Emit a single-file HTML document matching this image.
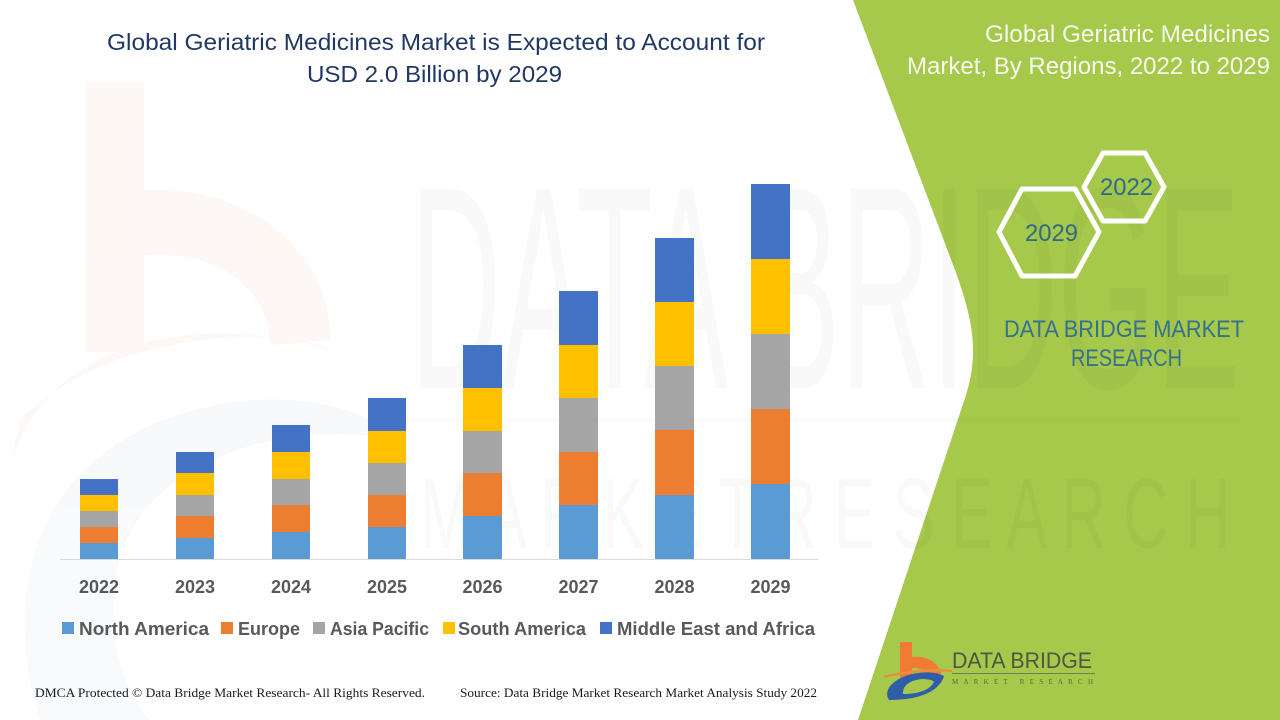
<!DOCTYPE html>
<html>
<head>
<meta charset="utf-8">
<style>
html,body{margin:0;padding:0;background:#fff;}
svg{display:block;}
</style>
</head>
<body>
<svg width="1280" height="720" viewBox="0 0 1280 720" xmlns="http://www.w3.org/2000/svg">
  <rect x="0" y="0" width="1280" height="720" fill="#ffffff"/>

  <!-- faint watermark logo on left -->
  <g opacity="0.3">
    <rect x="86" y="82" width="58" height="270" fill="#fbe9df"/>
    <path d="M144,190 C250,185 330,250 330,340 L270,345 C268,285 215,250 144,255 Z" fill="#fbe9df"/>
    <path d="M10,470 C40,340 200,310 330,350 C300,330 120,320 20,420 Z" fill="#fbe9df"/>
    <path d="M40,720 C-10,560 60,420 250,400 C330,395 380,420 400,440 C300,420 150,450 120,560 C100,640 130,700 150,720 Z" fill="#e8edf5"/>
  </g>

  <!-- green panel -->
  <path d="M853,0 L952,262 C972,315 980,350 966,395 L858,720 L1280,720 L1280,0 Z" fill="#a6c84b"/>

  <!-- big watermark text -->
  <text x="410" y="388" font-family="Liberation Sans, sans-serif" font-size="290" fill="#000" opacity="0.018" textLength="830" lengthAdjust="spacingAndGlyphs">DATA BRIDGE</text>
  <line x1="400" y1="420" x2="1240" y2="420" stroke="#000" stroke-opacity="0.015" stroke-width="4"/>
  <text x="420" y="548" font-family="Liberation Sans, sans-serif" font-size="100" fill="#000" opacity="0.018" textLength="810" lengthAdjust="spacingAndGlyphs">M A R K E T  R E S E A R C H</text>

  <!-- title -->
  <text x="107" y="50" font-family="Liberation Sans, sans-serif" font-size="23" fill="#203864" textLength="658" lengthAdjust="spacingAndGlyphs">Global Geriatric Medicines Market is Expected to Account for</text>
  <text x="307" y="82" font-family="Liberation Sans, sans-serif" font-size="23" fill="#203864" textLength="255" lengthAdjust="spacingAndGlyphs">USD 2.0 Billion by 2029</text>

  <!-- bars -->
  <g>
    <rect x="80" y="543" width="38" height="16" fill="#5b9bd5"/>
    <rect x="80" y="527" width="38" height="16" fill="#ed7d31"/>
    <rect x="80" y="511" width="38" height="16" fill="#a5a5a5"/>
    <rect x="80" y="495" width="38" height="16" fill="#ffc000"/>
    <rect x="80" y="479" width="38" height="16" fill="#4472c4"/>

    <rect x="176" y="538" width="38" height="21" fill="#5b9bd5"/>
    <rect x="176" y="516" width="38" height="22" fill="#ed7d31"/>
    <rect x="176" y="495" width="38" height="21" fill="#a5a5a5"/>
    <rect x="176" y="473" width="38" height="22" fill="#ffc000"/>
    <rect x="176" y="452" width="38" height="21" fill="#4472c4"/>

    <rect x="272" y="532" width="38" height="27" fill="#5b9bd5"/>
    <rect x="272" y="505" width="38" height="27" fill="#ed7d31"/>
    <rect x="272" y="479" width="38" height="26" fill="#a5a5a5"/>
    <rect x="272" y="452" width="38" height="27" fill="#ffc000"/>
    <rect x="272" y="425" width="38" height="27" fill="#4472c4"/>

    <rect x="368" y="527" width="38" height="32" fill="#5b9bd5"/>
    <rect x="368" y="495" width="38" height="32" fill="#ed7d31"/>
    <rect x="368" y="463" width="38" height="32" fill="#a5a5a5"/>
    <rect x="368" y="431" width="38" height="32" fill="#ffc000"/>
    <rect x="368" y="398" width="38" height="33" fill="#4472c4"/>

    <rect x="463" y="516" width="39" height="43" fill="#5b9bd5"/>
    <rect x="463" y="473" width="39" height="43" fill="#ed7d31"/>
    <rect x="463" y="431" width="39" height="42" fill="#a5a5a5"/>
    <rect x="463" y="388" width="39" height="43" fill="#ffc000"/>
    <rect x="463" y="345" width="39" height="43" fill="#4472c4"/>

    <rect x="559" y="505" width="39" height="54" fill="#5b9bd5"/>
    <rect x="559" y="452" width="39" height="53" fill="#ed7d31"/>
    <rect x="559" y="398" width="39" height="54" fill="#a5a5a5"/>
    <rect x="559" y="345" width="39" height="53" fill="#ffc000"/>
    <rect x="559" y="291" width="39" height="54" fill="#4472c4"/>

    <rect x="655" y="495" width="39" height="64" fill="#5b9bd5"/>
    <rect x="655" y="430" width="39" height="65" fill="#ed7d31"/>
    <rect x="655" y="366" width="39" height="64" fill="#a5a5a5"/>
    <rect x="655" y="302" width="39" height="64" fill="#ffc000"/>
    <rect x="655" y="238" width="39" height="64" fill="#4472c4"/>

    <rect x="751" y="484" width="39" height="75" fill="#5b9bd5"/>
    <rect x="751" y="409" width="39" height="75" fill="#ed7d31"/>
    <rect x="751" y="334" width="39" height="75" fill="#a5a5a5"/>
    <rect x="751" y="259" width="39" height="75" fill="#ffc000"/>
    <rect x="751" y="184" width="39" height="75" fill="#4472c4"/>
  </g>

  <!-- axis -->
  <line x1="60" y1="559.5" x2="818" y2="559.5" stroke="#d9d9d9" stroke-width="1"/>

  <!-- year labels -->
  <g font-family="Liberation Sans, sans-serif" font-size="18" font-weight="bold" fill="#595959" text-anchor="middle">
    <text x="99" y="593">2022</text>
    <text x="195" y="593">2023</text>
    <text x="291" y="593">2024</text>
    <text x="387" y="593">2025</text>
    <text x="482.5" y="593">2026</text>
    <text x="578.5" y="593">2027</text>
    <text x="674.5" y="593">2028</text>
    <text x="770.5" y="593">2029</text>
  </g>

  <!-- legend -->
  <g font-family="Liberation Sans, sans-serif" font-size="18" font-weight="bold" fill="#595959">
    <rect x="62" y="622" width="12" height="12" fill="#5b9bd5"/>
    <text x="79" y="635" textLength="130" lengthAdjust="spacingAndGlyphs">North America</text>
    <rect x="221" y="622" width="12" height="12" fill="#ed7d31"/>
    <text x="238" y="635" textLength="62" lengthAdjust="spacingAndGlyphs">Europe</text>
    <rect x="313" y="622" width="12" height="12" fill="#a5a5a5"/>
    <text x="330" y="635" textLength="99" lengthAdjust="spacingAndGlyphs">Asia Pacific</text>
    <rect x="443" y="622" width="12" height="12" fill="#ffc000"/>
    <text x="458" y="635" textLength="128" lengthAdjust="spacingAndGlyphs">South America</text>
    <rect x="600" y="622" width="12" height="12" fill="#4472c4"/>
    <text x="617" y="635" textLength="198" lengthAdjust="spacingAndGlyphs">Middle East and Africa</text>
  </g>

  <!-- footer -->
  <g font-family="Liberation Serif, serif" font-size="12.5" fill="#1a1a1a">
    <text x="35" y="697" textLength="390" lengthAdjust="spacingAndGlyphs">DMCA Protected © Data Bridge Market Research- All Rights Reserved.</text>
    <text x="460" y="697" textLength="357" lengthAdjust="spacingAndGlyphs">Source: Data Bridge Market Research Market Analysis Study 2022</text>
  </g>

  <!-- right panel title -->
  <g font-family="Liberation Sans, sans-serif" font-size="24" fill="#f7f9ee">
    <text x="985" y="42" textLength="285" lengthAdjust="spacingAndGlyphs">Global Geriatric Medicines</text>
    <text x="907" y="74" textLength="363" lengthAdjust="spacingAndGlyphs">Market, By Regions, 2022 to 2029</text>
  </g>

  <!-- hexagons -->
  <g fill="none" stroke="#ffffff" stroke-width="5" stroke-linejoin="round">
    <polygon points="1084,187 1103,153 1145,153 1164,187 1145,221 1103,221"/>
    <polygon points="999,232 1022,189 1075,189 1099,232 1075,276 1022,276"/>
  </g>
  <g font-family="Liberation Sans, sans-serif" font-size="24" fill="#2f6a88">
    <text x="1100" y="195" textLength="53" lengthAdjust="spacingAndGlyphs">2022</text>
    <text x="1025" y="241" textLength="53" lengthAdjust="spacingAndGlyphs">2029</text>
  </g>

  <!-- DATA BRIDGE MARKET RESEARCH -->
  <g font-family="Liberation Sans, sans-serif" font-size="24" fill="#35708f">
    <text x="1004" y="337" textLength="240" lengthAdjust="spacingAndGlyphs">DATA BRIDGE MARKET</text>
    <text x="1071" y="366" textLength="111" lengthAdjust="spacingAndGlyphs">RESEARCH</text>
  </g>

  <!-- bottom logo -->
  <g>
    <path d="M900,642 L912,642 L912,657 C930,655 943,666 942,682 L930,684 C930,673 922,667 912,668 L912,678 L900,680 Z" fill="#f27a35"/>
    <path d="M884,676 C905,670 930,668 952,670 L952,672 C930,671 905,673 884,678 Z" fill="#e8903c"/>
    <path d="M889,700 C882,690 895,676 918,673 C932,671 940,674 944,676 C940,690 922,700 889,700 Z" fill="#2f5ea8"/>
    <path d="M903,694 C902,686 910,680 922,679 C930,679 934,681 934,682 C930,690 918,694 903,694 Z" fill="#a6c84b"/>
    <text x="952" y="668" font-family="Liberation Sans, sans-serif" font-size="22" fill="#4d5741" textLength="140" lengthAdjust="spacingAndGlyphs">DATA BRIDGE</text>
    <line x1="952" y1="673.5" x2="1095" y2="673.5" stroke="#6f7f55" stroke-width="1"/>
    <text x="952" y="684" font-family="Liberation Serif, serif" font-size="7" fill="#5d6a4a" textLength="141" lengthAdjust="spacing">MARKET   RESEARCH</text>
  </g>
</svg>
</body>
</html>
